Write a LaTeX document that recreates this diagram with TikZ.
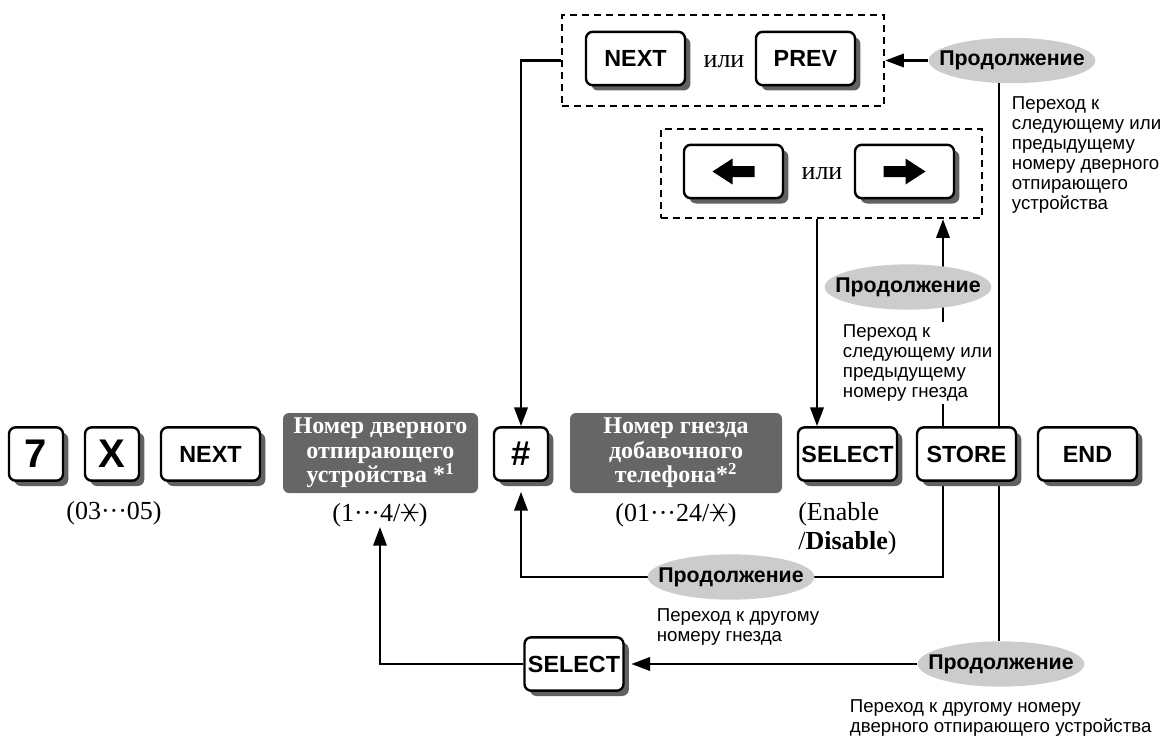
\documentclass[tikz,border=0pt]{standalone}
\usepackage{fontspec}
\setmainfont{Liberation Serif}
\setsansfont{Liberation Sans}
\usetikzlibrary{arrows.meta, shapes.geometric, shadows, backgrounds}

% six-armed star used for the "all" entry
\newcommand{\sixstar}{\tikz[baseline=-6.5pt, x=1pt, y=1pt, line width=0.9pt]
  \draw (-6.5,0) -- (6.5,0) (-4,-6.5) -- (4,6.5) (-4,6.5) -- (4,-6.5);}

\begin{document}
\begin{tikzpicture}[x=0.75pt, y=-0.75pt, >={Triangle[length=14pt, width=10pt]},
  keybox/.style={draw, line width=1.8pt, rounded corners=5pt, fill=white,
    minimum width=74.25pt, minimum height=40pt, inner sep=0pt,
    font=\sffamily\bfseries\fontsize{17.5}{20}\selectfont,
    drop shadow={fill=black!62, opacity=1, shadow xshift=4pt, shadow yshift=-4pt}},
  keysq/.style={keybox, minimum width=40.5pt},
  field/.style={fill=black!60, rounded corners=4.5pt, text=white, align=center,
    inner sep=0pt, minimum height=60pt, font=\bfseries\fontsize{18}{18.5}\selectfont},
  cont/.style={ellipse, fill=black!20, minimum width=125pt, minimum height=34pt,
    inner xsep=-12pt, inner ysep=0pt, font=\sffamily\bfseries\fontsize{16}{18}\selectfont},
  note/.style={align=left, inner sep=2pt, anchor=north west,
    font=\sffamily\fontsize{14}{15}\selectfont},
  param/.style={align=left, inner sep=0pt, font=\fontsize{19.5}{21.75}\selectfont},
  choice/.style={draw, line width=1.8pt, dash pattern=on 5.25pt off 3.75pt},
  flow/.style={line width=1.8pt}]
  \useasboundingbox (0,0) rectangle (1162,738);

  % main key sequence
  \node[keysq, font=\sffamily\bfseries\fontsize{30}{32}\selectfont] (k7) at (36,454) {7};
  \node[keysq, font=\sffamily\bfseries\fontsize{30}{32}\selectfont] (kX) at (112,454) {X};
  \node[keybox] (kNext) at (210.5,454) {NEXT};
  \node[field, minimum width=146.25pt] (fDoor) at (380.5,453)
    {Номер дверного\\отпирающего\\устройства *\textsuperscript{1}};
  \node[keysq, font=\sffamily\bfseries\fontsize{26}{28}\selectfont] (kHash) at (521,454) {\#};
  \node[field, minimum width=159pt] (fJack) at (676,453)
    {Номер гнезда\\добавочного\\телефона*\textsuperscript{2}};
  \node[keybox] (kSelect) at (847.5,454) {SELECT};
  \node[keybox] (kStore) at (966.5,454) {STORE};
  \node[keybox] (kEnd) at (1087.5,454) {END};

  % values under the keys
  \node[param] (rCode) at (114,513) {(03···05)};
  \node[param] (rDoor) at (380,515) {(1···4/\sixstar)};
  \node[param] (rJack) at (676,515) {(01···24/\sixstar)};
  \node[param, anchor=north west] (rState) at (798,502) {(Enable\\/\textbf{Disable})};

  % NEXT or PREV
  \node[keybox] (kNextB) at (635.5,58.5) {NEXT};
  \node[keybox] (kPrev) at (805.5,58.5) {PREV};
  \node[param] (orNP) at (724,62) {или};
  \node[choice, minimum width=241.5pt, minimum height=68.25pt] (boxNP) at (723,60.5) {};

  % left or right
  \node[keybox] (kLeft) at (733.5,171.5) {};
  \node[keybox] (kRight) at (904.5,171.5) {};
  \node[param] (orLR) at (822,174) {или};
  \node[choice, minimum width=240.75pt, minimum height=66.75pt] (boxLR) at (821.5,173.5) {};
  \foreach \k/\s in {kLeft/1, kRight/-1}
    \fill[shift={(\k.center)}, xscale=\s] (-21,0) -- (-1,-13) -- (-1,-5.5) -- (21,-5.5)
      -- (21,5.5) -- (-1,5.5) -- (-1,13) -- cycle;

  \node[keybox] (kSel2) at (574,664) {SELECT};

  % continue marks
  \node[cont] (cNP) at (1012,60.5) {Продолжение};
  \node[cont] (cLR) at (908,287) {Продолжение};
  \node[cont] (cJack) at (731,577) {Продолжение};
  \node[cont] (cDoor) at (1001,664) {Продолжение};

  \node[note] (nNP) at (1009,94) {Переход к\\следующему или\\предыдущему\\номеру дверного\\отпирающего\\устройства};
  \node[note, fill=white] (nLR) at (840,322) {Переход к\\следующему или\\предыдущему\\номеру гнезда};
  \node[note] (nJack) at (654,606) {Переход к другому\\номеру гнезда};
  \node[note] (nDoor) at (847,697) {Переход к другому номеру\\дверного отпирающего устройства};

  % connectors
  \coordinate (sL) at (943,0);
  \coordinate (sR) at (999,0);
  \coordinate (aX) at (817,0);
  \begin{scope}[on background layer]
    \draw[flow,->] (cNP.west) -- (boxNP.east);
    \draw[flow,->] (boxNP.west) -| (kHash.north);
    \draw[flow] (cNP.south -| sR) -- (kStore.north -| sR)
      (kStore.south -| sR) -- (cDoor.north -| sR);
    \draw[flow,->,shorten >=5pt] (cDoor.west) -- (kSel2.east);
    \draw[flow,->] (kSel2.west) -| (rDoor.south);
    \draw[flow,->,shorten >=7.5pt] (kStore.south -| sL) |- (cJack.center) -| (kHash.south);
    \draw[flow,->] (kStore.north -| sL) -- (boxLR.south -| sL);
    \draw[flow,->] (boxLR.south -| aX) -- (kSelect.north -| aX);
  \end{scope}
\end{tikzpicture}
\end{document}
